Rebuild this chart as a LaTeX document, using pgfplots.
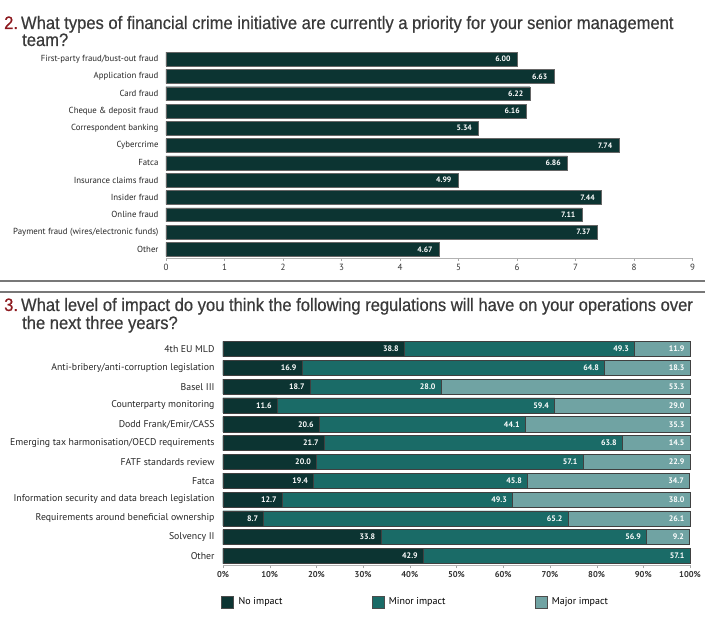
\documentclass[border=0pt]{standalone}
\usepackage{pgfplots}
\usepackage{pgfplotstable}
\pgfplotsset{compat=1.18}
\usepackage{fontspec}
\setmainfont{PT Sans}
\newfontfamily\titlefont[FakeStretch=0.92,FakeBold=0.5]{Liberation Sans}
\definecolor{darkbar}{RGB}{12,52,50}
\definecolor{minorbar}{RGB}{26,107,103}
\definecolor{majorbar}{RGB}{112,163,163}
\definecolor{titlegray}{RGB}{58,58,58}
\definecolor{titlered}{RGB}{140,25,30}
\definecolor{sepgray}{RGB}{120,120,120}

\pgfplotstableread{
idx v
11 6.00
10 6.63
9 6.22
8 6.16
7 5.34
6 7.74
5 6.86
4 4.99
3 7.44
2 7.11
1 7.37
0 4.67
}\priority

\pgfplotstableread{
idx no minor major mlab
11 38.8 49.3 11.9 11.9
10 16.9 64.8 18.3 18.3
9 18.7 28.0 53.3 53.3
8 11.6 59.4 29.0 29.0
7 20.6 44.1 35.3 35.3
6 21.7 63.8 14.5 14.5
5 20.0 57.1 22.9 22.9
4 19.4 45.8 34.7 34.7
3 12.7 49.3 38.0 38.0
2 8.7 65.2 26.1 26.1
1 33.8 56.9 9.2 9.2
0 42.9 57.1 0 {}
}\impact

\begin{document}
\begin{tikzpicture}[x=1pt,y=1pt]
\path[use as bounding box] (0,0) rectangle (705,618);

% titles
\node[anchor=base west, inner sep=0pt, font=\titlefont\fontsize{18}{20}\selectfont] at (4,589)
  {\textcolor{titlered}{2.}\,\textcolor{titlegray}{What types of financial crime initiative are currently a priority for your senior management}};
\node[anchor=base west, inner sep=0pt, font=\titlefont\fontsize{18}{20}\selectfont, text=titlegray] at (22,572) {team?};

\draw[sepgray, line width=2pt] (0,337) -- (705,337);
\draw[sepgray, line width=2pt] (0,326) -- (705,326);

\node[anchor=base west, inner sep=0pt, font=\titlefont\fontsize{18}{20}\selectfont] at (4,307)
  {\textcolor{titlered}{3.}\,\textcolor{titlegray}{What level of impact do you think the following regulations will have on your operations over}};
\node[anchor=base west, inner sep=0pt, font=\titlefont\fontsize{18}{20}\selectfont, text=titlegray] at (22,289) {the next three years?};

% chart 1
\begin{axis}[
  at={(166pt,360pt)}, anchor=south west,
  scale only axis, width=526.5pt, height=207.6pt,
  xbar, bar width=0.8,
  xmin=0, xmax=9, ymin=-0.5, ymax=11.5,
  axis x line*=bottom, axis y line*=left,
  y axis line style={draw=none},
  x axis line style={gray!60},
  xtick={0,...,9},
  xtick align=outside, major tick length=3pt,
  xtick style={gray!70},
  ytick={0,...,11},
  ytick style={draw=none},
  yticklabels={Other,Payment fraud (wires/electronic funds),Online fraud,Insider fraud,Insurance claims fraud,Fatca,Cybercrime,Correspondent banking,Cheque \& deposit fraud,Card fraud,Application fraud,First-party fraud/bust-out fraud},
  yticklabel style={font=\fontsize{8.8}{10}\selectfont, text=black!85, xshift=-1pt},
  xticklabel style={font=\fontsize{9}{10}\selectfont, text=black!80},
  /pgf/number format/assume math mode=true,
  point meta=explicit symbolic,
  nodes near coords={\pgfplotspointmeta},
  nodes near coords align={anchor=east},
  every node near coord/.append style={font=\bfseries\fontsize{7.8}{9}\selectfont, text=white, xshift=-3pt},
  clip=false,
]
\addplot[fill=darkbar, draw=black!60, line width=0.4pt] table[x=v, y=idx, meta=v] {\priority};
\end{axis}

% chart 2
\begin{axis}[
  at={(223pt,52.6pt)}, anchor=south west,
  scale only axis, width=467pt, height=225.8pt,
  xbar, bar width=0.8, bar shift=0pt,
  xmin=0, xmax=100, ymin=-0.5, ymax=11.5,
  axis x line*=bottom, axis y line*=left,
  y axis line style={draw=none},
  x axis line style={gray!60},
  xtick={0,10,...,100},
  xticklabels={0\%,10\%,20\%,30\%,40\%,50\%,60\%,70\%,80\%,90\%,100\%},
  xtick align=outside, major tick length=3pt,
  xtick style={gray!70},
  ytick={0,...,11},
  ytick style={draw=none},
  yticklabels={Other,Solvency II,Requirements around beneficial ownership,Information security and data breach legislation,Fatca,FATF standards review,Emerging tax harmonisation/OECD requirements,Dodd Frank/Emir/CASS,Counterparty monitoring,Basel III,Anti-bribery/anti-corruption legislation,4th EU MLD},
  yticklabel style={font=\fontsize{9.8}{11}\selectfont, text=black!85, xshift=-2pt},
  xticklabel style={font=\bfseries\fontsize{8.5}{10}\selectfont, text=black!80},
  point meta=explicit symbolic,
  nodes near coords={\pgfplotspointmeta},
  nodes near coords align={anchor=east},
  every node near coord/.append style={font=\bfseries\fontsize{8}{9}\selectfont, text=white, xshift=-2pt},
  legend columns=3,
  legend style={draw=none, at={(axis description cs:-0.004,-0.162)}, anchor=west, inner xsep=0pt, inner ysep=0pt, font=\fontsize{10}{12}\selectfont,
    /tikz/every even column/.append style={column sep=87pt},
    /tikz/every odd column/.append style={column sep=3pt}},
  legend cell align=left,
  clip=false,
]
\addlegendimage{legend image code/.code={\draw[fill=darkbar,draw=black!70] (0pt,-6pt) rectangle (12pt,6pt);}}
\addlegendimage{legend image code/.code={\draw[fill=minorbar,draw=black!70] (0pt,-6pt) rectangle (12pt,6pt);}}
\addlegendimage{legend image code/.code={\draw[fill=majorbar,draw=black!70] (0pt,-6pt) rectangle (12pt,6pt);}}
\legend{No impact,Minor impact,Major impact}
\addplot[forget plot, fill=majorbar, draw=black!75, line width=0.5pt] table[x expr=\thisrow{no}+\thisrow{minor}+\thisrow{major}, y=idx, meta=mlab] {\impact};
\addplot[forget plot, fill=minorbar, draw=black!75, line width=0.5pt] table[x expr=\thisrow{no}+\thisrow{minor}, y=idx, meta=minor] {\impact};
\addplot[forget plot, fill=darkbar, draw=black!75, line width=0.5pt] table[x=no, y=idx, meta=no] {\impact};
\end{axis}
\end{tikzpicture}
\end{document}
